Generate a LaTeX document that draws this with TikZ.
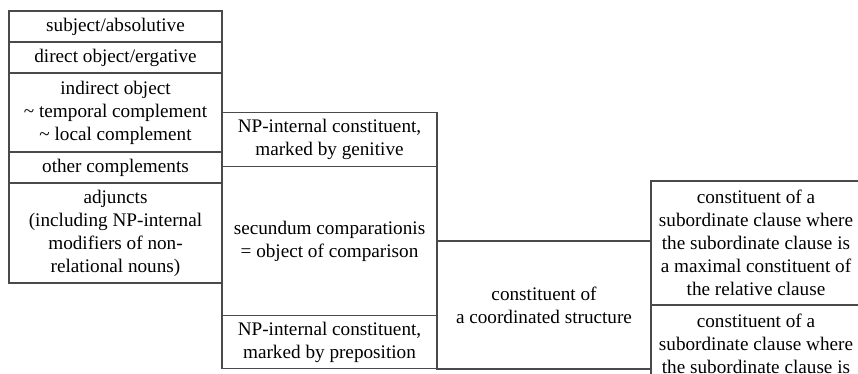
\documentclass[tikz,border=0pt]{standalone}
\usepackage{fontspec}
\setmainfont{Liberation Serif}
\newfontfamily\cellfont{Liberation Serif}
\usetikzlibrary{positioning}
\usepackage{xcolor}
\definecolor{CellLine}{HTML}{4A4A4A}

\tikzset{
  cell/.style={draw=CellLine, line width=0.6pt, inner sep=0pt, outer sep=0pt,
    align=center, anchor=north west, font=\cellfont\fontsize{9.6}{11.5}\selectfont},
  colA/.style={cell, minimum width=106.5pt},
  colB/.style={cell, minimum width=107.5pt},
  colC/.style={cell, minimum width=107pt},
  colD/.style={cell, minimum width=105pt},
}

\begin{document}
\begin{tikzpicture}[x=0.5pt,y=-0.5pt]
  \useasboundingbox (0,0) rectangle (858,374);
  \clip (0,0) rectangle (858,374);
  % first column: clause-level functions
  \node[colA, minimum height=15.5pt] (subj) at (9,11) {subject/absolutive};
  \node[colA, minimum height=15.5pt] (dobj) at (subj.south west) {direct object/ergative};
  \node[colA, minimum height=39.5pt] (iobj) at (dobj.south west)
    {indirect object\\\char"007E{} temporal complement\\\char"007E{} local complement};
  \node[colA, minimum height=15.5pt] (ocompl) at (iobj.south west) {other complements};
  \node[colA, minimum height=50pt] (adj) at (ocompl.south west)
    {adjuncts\\(including NP-internal\\modifiers of non-\\relational nouns)};
  % second column
  \node[colB, minimum height=27pt] (npgen) at (iobj.east)
    {NP-internal constituent,\\marked by genitive};
  \node[colB, minimum height=74.5pt] (seccomp) at (npgen.south west)
    {secundum comparationis\\= object of comparison};
  \node[colB, minimum height=26.5pt] (npprep) at (seccomp.south west)
    {NP-internal constituent,\\marked by preposition};
  % third column
  \node[colC, minimum height=64pt] (coord) at (seccomp.east)
    {constituent of\\a coordinated structure};
  % fourth column
  \node[colD, anchor=south west, minimum height=62pt] (subrel) at (coord.east)
    {constituent of a\\subordinate clause where\\the subordinate clause is\\a maximal constituent of\\the relative clause};
  \node[colD, inner ysep=4.5pt] (subcl) at (subrel.south west)
    {constituent of a\\subordinate clause where\\the subordinate clause is};
\end{tikzpicture}
\end{document}
